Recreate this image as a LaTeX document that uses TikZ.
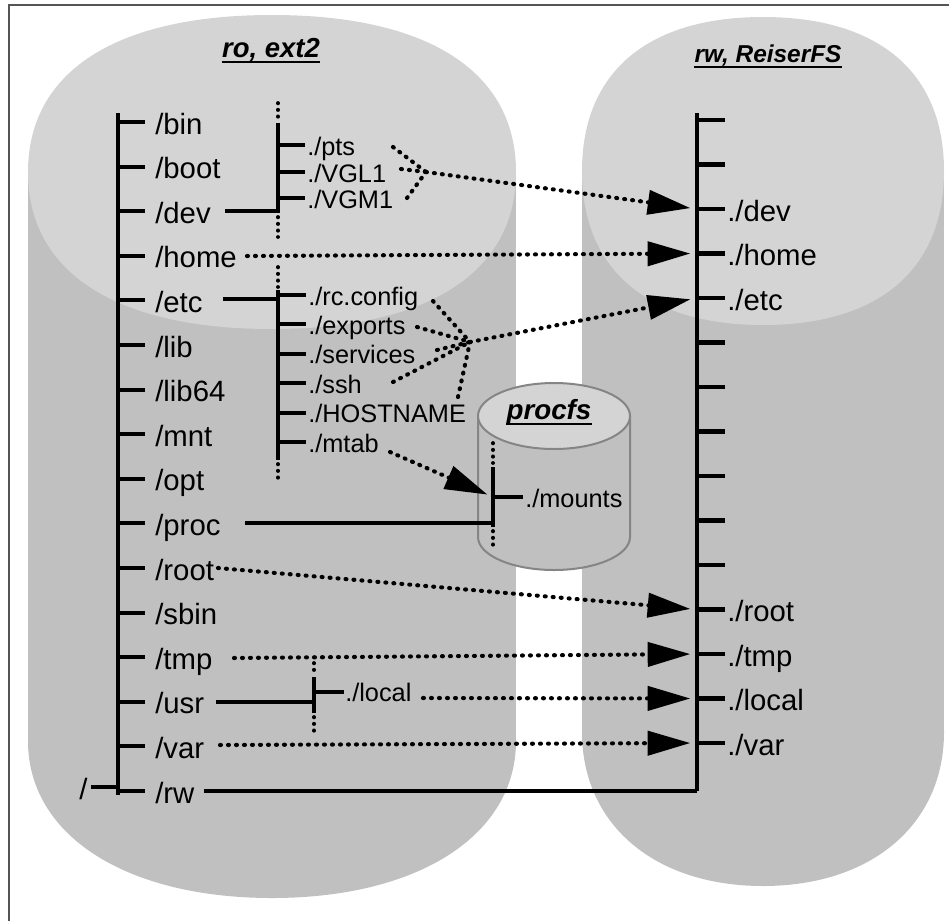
\documentclass[tikz,border=0pt]{standalone}
\usepackage{fontspec}
\setmainfont{Liberation Sans}
\usetikzlibrary{arrows.meta,calc}
\definecolor{cylLight}{HTML}{D4D4D4}
\definecolor{cylDark}{HTML}{C0C0C0}
\definecolor{frameGray}{HTML}{555555}
\definecolor{procEdge}{HTML}{858585}
\newcommand{\supellpath}[5]{(#1+#3,#2) .. controls (#1+#3,#2+#5*#4) and (#1+#5*#3,#2+#4) .. (#1,#2+#4) .. controls (#1-#5*#3,#2+#4) and (#1-#3,#2+#5*#4) .. (#1-#3,#2) .. controls (#1-#3,#2-#5*#4) and (#1-#5*#3,#2-#4) .. (#1,#2-#4) .. controls (#1+#5*#3,#2-#4) and (#1+#3,#2-#5*#4) .. (#1+#3,#2) -- cycle}
\tikzset{
  treeline/.style={line width=3.1pt},
  subline/.style={line width=2.7pt},
  vdots/.style={line width=2.8pt, line cap=round, dash pattern=on 0.3pt off 4.7pt},
  dotline/.style={line width=3.1pt, line cap=round, dash pattern=on 0.7pt off 5.3pt},
  dotarrow/.style={dotline, -{Triangle[length=32pt,width=18pt]}, shorten >=5pt},
  biglab/.style={anchor=base west, inner sep=0pt, font=\fontsize{22}{26}\selectfont},
  smalllab/.style={anchor=base west, inner sep=0pt, font=\fontsize{19}{22}\selectfont},
  titlelab/.style={anchor=base, inner sep=0pt},
  uline/.style={line width=1.8pt}
}
\begin{document}
\begin{tikzpicture}[x=0.75pt,y=-0.75pt]
\useasboundingbox (0,0) rectangle (949,921);
% frame
\draw[frameGray, line width=1.5pt] (9,921) -- (9,5) -- (949,5);
% left cylinder
\fill[cylDark] (28,172) rectangle (516,741);
\fill[cylDark] \supellpath{272}{741}{244}{157}{0.6};
\fill[cylLight] \supellpath{272}{172}{244}{157}{0.64};
% right cylinder
\fill[cylDark] (582,171) rectangle (944,732);
\fill[cylDark] \supellpath{763}{732}{181}{154}{0.6};
\fill[cylLight] \supellpath{763}{171}{181}{154}{0.64};
% procfs cylinder
\fill[cylDark] (478,416) rectangle (630,537);
\filldraw[fill=cylDark, draw=procEdge, line width=1.5pt] (478,416) -- (478,537) .. controls (478,555.2) and (512,570) .. (554,570) .. controls (596,570) and (630,555.2) .. (630,537) -- (630,416);
\filldraw[fill=cylLight, draw=procEdge, line width=1.5pt] \supellpath{554}{416}{76}{33}{0.552};

% titles
\node[titlelab, font=\fontsize{20.6}{24}\selectfont\bfseries\itshape] (t1) at (271,57) {ro, ext2};
\draw[uline] ([yshift=-3.8pt]t1.base west) -- ([yshift=-3.8pt]t1.base east);
\node[titlelab, font=\fontsize{18.3}{22}\selectfont\bfseries\itshape] (t2) at (768,62) {rw, ReiserFS};
\draw[uline] ([yshift=-3.8pt]t2.base west) -- ([yshift=-3.8pt]t2.base east);
\node[titlelab, font=\fontsize{20.8}{24}\selectfont\bfseries\itshape] (t3) at (549,419) {procfs};
\draw[uline] ([yshift=-3.8pt]t3.base west) -- ([yshift=-3.8pt]t3.base east);

% left tree
\coordinate (Ltop) at (118,113);
\coordinate (Lbot) at (118,795);
\draw[treeline] (Ltop) -- (Lbot);
\foreach \i/\t in {0/bin,1/boot,2/dev,3/home,4/etc,5/lib,6/lib64,7/mnt,8/opt,9/proc,10/root,11/sbin,12/tmp,13/usr,14/var,15/rw}{
  \coordinate (T\t) at (118,{122+44.6*\i});
  \draw[treeline] (T\t) -- ++(27,0);
  \node[biglab] (n\t) at (155,{122+44.6*\i+12}) {/\t};
}
\coordinate (Troot) at (118,787);
\draw[treeline] (Troot) -- ++(-27,0);
\node[biglab] (nslash) at (79,799) {/};

% right tree
\coordinate (Rtop) at (697,113);
\coordinate (Rbot) at (697,791);
\draw[treeline] (Rtop) -- (Rbot);
\foreach \j in {0,...,14}{
  \coordinate (R\j) at (697,{120+44.5*\j});
  \draw[treeline] (R\j) -- ++(28,0);
}
\node[biglab] (rdev) at (727,221) {./dev};
\node[biglab] (rhome) at (727,265.5) {./home};
\node[biglab] (retc) at (727,310) {./etc};
\node[biglab] (rroot) at (727,621.5) {./root};
\node[biglab] (rtmp) at (727,666) {./tmp};
\node[biglab] (rlocal) at (727,710.5) {./local};
\node[biglab] (rvar) at (727,755) {./var};

% /rw link
\coordinate (rwS) at (204,791);
\draw[treeline] (rwS) -- (Rbot);

% /dev subtree
\coordinate (devS) at (225,211);
\coordinate (DV) at (278,211);
\draw[treeline] (devS) -- (DV);
\draw[subline] (278,123) -- (278,213);
\draw[vdots] (278,103) -- (278,121);
\draw[vdots] (278,217) -- (278,237);
\foreach \y/\t/\n in {145/pts/pts,172/VGL1/vgl,198/VGM1/vgm}{
  \coordinate (D\n) at (278,\y);
  \draw[treeline] (D\n) -- ++(27,0);
  \node[smalllab] (s\n) at (307,\y+10) {./\t};
}
\coordinate (J1) at (426,172);
\coordinate (ptsS) at (393,147);
\coordinate (vglS) at (401,169);
\coordinate (vgmS) at (407,198);
\draw[dotline] (ptsS) -- (J1);
\draw[dotline] (vglS) -- (J1);
\draw[dotline] (vgmS) -- (J1);
\draw[dotarrow] (J1) -- (R2);

% /home
\coordinate (homeS) at (247,256);
\draw[dotarrow] (homeS) -- (R3);

% /etc subtree
\coordinate (etcS) at (223,299);
\coordinate (EV) at (278,299);
\draw[treeline] (etcS) -- (EV);
\draw[subline] (278,290) -- (278,460);
\draw[vdots] (278,267) -- (278,287);
\draw[vdots] (278,464) -- (278,483);
\foreach \y/\t/\n in {295/rc.config/rc,324.4/exports/ex,353.8/services/sv,383.2/ssh/sh,412.6/HOSTNAME/hn,442/mtab/mt}{
  \coordinate (E\n) at (278,\y);
  \draw[treeline] (E\n) -- ++(28,0);
  \node[smalllab] (s\n) at (308,\y+10) {./\t};
}
\coordinate (J2) at (470,342);
\coordinate (rcS) at (433,301);
\coordinate (exS) at (417,327);
\coordinate (svS) at (437,350);
\coordinate (shS) at (393,382);
\coordinate (hnS) at (458,397);
\draw[dotline] (rcS) -- (J2);
\draw[dotline] (exS) -- (J2);
\draw[dotline] (svS) -- (J2);
\draw[dotline] (shS) -- (J2);
\draw[dotline] (hnS) -- (J2);
\draw[dotarrow] (J2) -- (R4);

% mtab -> mounts
\coordinate (mtS) at (390,452);
\coordinate (PV) at (493,497);
\draw[dotarrow, shorten >=4.5pt] (mtS) -- (PV);

% procfs subtree
\draw[subline] (493,467) -- (493,527);
\draw[vdots] (493,443) -- (493,463);
\draw[vdots] (493,531) -- (493,550);
\draw[treeline] (PV) -- ++(30,0);
\node[smalllab] (smounts) at (525,507) {./mounts};
\coordinate (procS) at (245,523.4);
\coordinate (procE) at (493,523.4);
\draw[treeline] (procS) -- (procE);

% /root, /tmp, /var
\coordinate (rootS) at (218,568);
\draw[dotarrow] (rootS) -- (R11);
\coordinate (tmpS) at (234,658);
\draw[dotarrow] (tmpS) -- (R12);
\coordinate (varS) at (220,745);
\draw[dotarrow] (varS) -- (R14);

% /usr subtree
\coordinate (usrS) at (216,701.8);
\coordinate (UV) at (314,701.8);
\draw[treeline] (usrS) -- (UV);
\draw[subline] (314,677) -- (314,713);
\draw[vdots] (314,663) -- (314,673);
\draw[vdots] (314,717) -- (314,735);
\coordinate (Ulocal) at (314,692);
\draw[treeline] (Ulocal) -- ++(30,0);
\node[smalllab] (slocal) at (345,701) {./local};
\coordinate (localS) at (423,698);
\draw[dotarrow] (localS) -- (R13);
\end{tikzpicture}
\end{document}
